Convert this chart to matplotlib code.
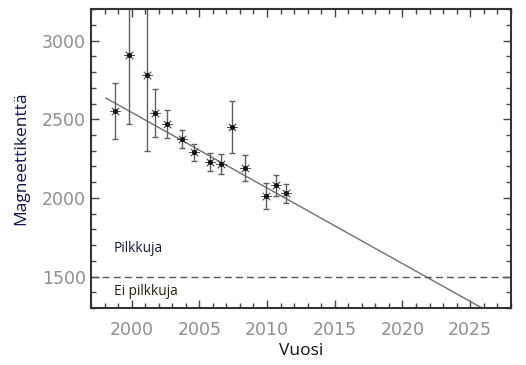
import numpy as np
import matplotlib
matplotlib.use('Agg')
import matplotlib.pyplot as plt
from matplotlib.ticker import MultipleLocator

# observations: year, field strength and error
years = [1998.8, 1999.8, 2001.1, 2001.7, 2002.6, 2003.7, 2004.6,
         2005.8, 2006.6, 2007.4, 2008.4, 2009.9, 2010.7, 2011.4]
field = [2550, 2910, 2780, 2540, 2470, 2375, 2290,
         2230, 2215, 2450, 2190, 2015, 2080, 2030]
errors = [178, 440, 480, 152, 90, 58, 53,
          58, 65, 167, 85, 83, 67, 60]

# linear trend (endpoints of the fitted line)
fit_years = [1998.1, 2026.3]
fit_values = [2635, 1280]

threshold = 1500

plt.rcParams['font.family'] = ['Open Sans', 'DejaVu Sans']
fig = plt.figure(figsize=(5.26, 3.65), dpi=100)
ax = fig.add_axes([0.173, 0.156, 0.798, 0.819])

ax.plot(fit_years, fit_values, color='#707070', lw=1.0)
ax.axhline(threshold, color='#555555', lw=1.0, ls=(0, (5, 3)))
ax.errorbar(years, field, yerr=errors, fmt='none', ecolor='#606060',
            elinewidth=1.0, capsize=2.5, capthick=1.0)
ax.plot(years, field, ls='none', marker=(8, 2, 0), ms=7.5, mec='#555555', mew=0.6)
ax.plot(years, field, ls='none', marker='o', ms=2.6, color='#111111')

ax.text(1998.7, 1655, 'Pilkkuja', fontsize=9.8, color='#10183a')
ax.text(1998.7, 1385, 'Ei pilkkuja', fontsize=9.8, color='#2a1a08')

ax.set_xlim(1997, 2028)
ax.set_ylim(1300, 3200)
ax.xaxis.set_major_locator(MultipleLocator(5))
ax.xaxis.set_minor_locator(MultipleLocator(1))
ax.yaxis.set_major_locator(MultipleLocator(500))
ax.yaxis.set_minor_locator(MultipleLocator(100))
ax.tick_params(which='both', direction='in', top=True, right=True,
               colors='#444444', labelcolor='#8e8e8e', labelsize=12.5)
ax.tick_params(which='major', length=6, width=1)
ax.tick_params(which='minor', length=3.5, width=1)
ax.tick_params(axis='x', which='major', pad=9)
for lbl in ax.get_xticklabels() + ax.get_yticklabels():
    lbl.set_family('DejaVu Sans')
for sp in ax.spines.values():
    sp.set_color('#333333')
    sp.set_linewidth(1.5)

ax.set_xlabel('Vuosi', fontsize=12.5, color='#111111', labelpad=3)
ax.set_ylabel('Magneettikenttä', fontsize=12.5, color='#141450', labelpad=9)

fig.savefig('out.png', dpi=100)
